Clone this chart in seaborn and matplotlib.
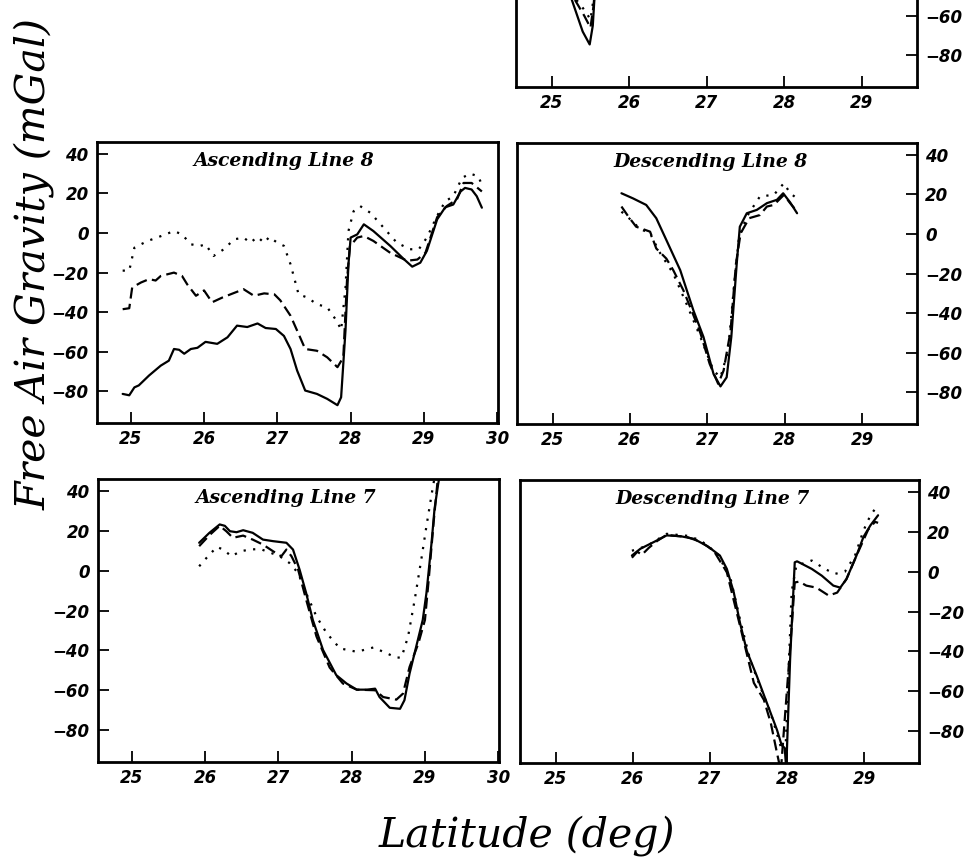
import numpy as np
import pandas as pd
import matplotlib
matplotlib.use("Agg")
import matplotlib.pyplot as plt
import seaborn as sns

# ---------------- data ----------------
# Ascending Line 8
a8_solid_lat = [24.89, 24.98, 25.05, 25.11, 25.25, 25.41, 25.52, 25.59, 25.66, 25.73, 25.82, 25.91,
                26.02, 26.18, 26.32, 26.45, 26.59, 26.73, 26.84, 26.98, 27.09, 27.18, 27.27, 27.38,
                27.54, 27.68, 27.82, 27.87, 27.93, 27.97, 28.00, 28.09, 28.18, 28.31, 28.54, 28.72,
                28.84, 28.95, 29.04, 29.18, 29.29, 29.40, 29.50, 29.56, 29.65, 29.72, 29.79]
a8_solid = [-81.3, -82, -78, -77, -72, -67, -64.5, -58.6, -59, -61, -58.6, -58,
            -55, -56, -52.7, -46.8, -47.5, -45.7, -48, -48.5, -52, -58.6, -69.5, -79.6,
            -81.3, -83.8, -87, -83, -49, -15.8, -2.3, -0.7, 4.4, 1, -6.5, -13,
            -17, -15, -9, 6.9, 13, 14.4, 21, 22.8, 22, 18.6, 12.8]
a8_dash_lat = [24.89, 24.98, 25.02, 25.14, 25.25, 25.34, 25.41, 25.59, 25.70, 25.77, 25.89, 26.00,
               26.11, 26.25, 26.36, 26.54, 26.68, 26.82, 26.96, 27.04, 27.18, 27.29, 27.38, 27.54,
               27.68, 27.82, 27.90, 27.95, 27.99, 28.09, 28.18, 28.31, 28.54, 28.77, 28.91, 29.02,
               29.18, 29.31, 29.45, 29.54, 29.65, 29.79]
a8_dash = [-38.5, -38, -27.5, -25, -23.3, -24, -21.7, -20, -21.7, -25.9, -31.7, -29,
           -35, -32.6, -31, -28.4, -31.7, -30.5, -31, -34, -41.8, -51, -58.6, -59.5,
           -62.8, -67.8, -62.8, -24, -6.7, -2.3, -1.5, -4, -10, -14, -13.4, -10,
           8, 13.6, 17, 25.3, 25.3, 21]
a8_dot_lat = [24.89, 24.98, 25.05, 25.23, 25.36, 25.59, 25.70, 25.82, 25.95, 26.02, 26.13, 26.27,
              26.41, 26.54, 26.63, 26.73, 26.82, 26.89, 27.00, 27.09, 27.18, 27.29, 27.41, 27.54,
              27.68, 27.82, 27.87, 27.93, 27.97, 28.04, 28.13, 28.27, 28.45, 28.63, 28.81, 28.93,
              29.04, 29.18, 29.29, 29.40, 29.52, 29.63, 29.74, 29.79]
a8_dot = [-19, -19, -7.4, -4, -2.3, 1, -0.7, -5.7, -6.5, -5.7, -11.6, -8.2,
          -3.2, -2.3, -4.9, -2, -4.9, -2, -4.9, -6.5, -15.8, -31, -32.6, -36,
          -37.5, -45, -49, -27.5, 1, 11, 13.6, 10.2, 2.7, -4.9, -8.2, -8.2,
          -2.3, 8.7, 16, 18.6, 27.9, 30, 28.7, 24.4]

# Descending Line 8
d8_solid_lat = [25.89, 26.04, 26.21, 26.34, 26.47, 26.65, 26.82, 26.95, 27.08, 27.17, 27.25, 27.31,
                27.38, 27.42, 27.51, 27.64, 27.77, 27.90, 27.98, 28.07, 28.16]
d8_solid = [20.6, 18, 14.7, 8, -3, -18.3, -38.6, -52, -70.7, -77, -72.4, -52,
            -15, 3.7, 10.5, 12.2, 15.6, 17.3, 20.6, 16, 10.5]
d8_dash_lat = [25.89, 25.98, 26.08, 26.26, 26.34, 26.47, 26.56, 26.69, 26.80, 26.91, 27.03, 27.14,
               27.21, 27.30, 27.37, 27.43, 27.54, 27.68, 27.77, 27.86, 27.99, 28.07, 28.16]
d8_dash = [13.9, 8.8, 3.7, 1.2, -7.3, -12.4, -18.3, -28.4, -39, -50, -65.6, -75.7,
           -69, -49, -15, 0.3, 8, 9.6, 13.9, 14.7, 19.8, 15.6, 11.4]
d8_dot_lat = [25.89, 26.04, 26.12, 26.26, 26.38, 26.56, 26.73, 26.91, 27.08, 27.17, 27.27, 27.34,
              27.41, 27.51, 27.68, 27.86, 27.99, 28.07, 28.16]
d8_dot = [11.3, 6.2, 2.8, 0.3, -9, -20, -35.2, -52, -69, -72.4, -58.8, -28.4,
          -1.4, 8.8, 19, 19.8, 25.7, 20.6, 18]

# Ascending Line 7
a7_solid_lat = [25.92, 26.06, 26.20, 26.27, 26.34, 26.43, 26.52, 26.65, 26.79, 26.93, 27.11, 27.20,
                27.29, 27.38, 27.47, 27.61, 27.79, 27.93, 28.07, 28.21, 28.32, 28.38, 28.52, 28.66,
                28.72, 28.79, 28.88, 28.97, 29.02, 29.09, 29.13, 29.18, 29.22]
a7_solid = [14, 19, 23.2, 22.5, 19.8, 19.3, 20.3, 19, 15.6, 14.8, 14, 10.6,
            0.5, -11.3, -24.7, -39.8, -52.4, -56.6, -59.7, -59.7, -59.2, -63.4, -68.8, -69.3,
            -65, -51.6, -38.2, -24.7, -11.3, 14, 30.8, 43.4, 52]
a7_dash_lat = [25.92, 26.06, 26.20, 26.29, 26.38, 26.52, 26.65, 26.79, 26.93, 27.04, 27.11, 27.18,
               27.27, 27.38, 27.52, 27.70, 27.88, 28.07, 28.32, 28.43, 28.61, 28.70, 28.79, 28.91,
               29.00, 29.05, 29.12, 29.18]
a7_dash = [12.3, 17.8, 22.5, 19.8, 16.5, 17.6, 15.6, 13.1, 9.7, 7.2, 10.6, 7.2,
           0.5, -14.6, -33, -48.6, -56.6, -59.7, -60, -63.4, -64.7, -61.7, -48.3, -36.5,
           -24.7, -5, 25, 48]
a7_dot_lat = [25.92, 26.02, 26.16, 26.25, 26.36, 26.48, 26.61, 26.75, 26.88, 27.02, 27.15, 27.27,
              27.38, 27.52, 27.66, 27.84, 28.07, 28.30, 28.43, 28.61, 28.68, 28.77, 28.86, 28.95,
              29.02, 29.11, 29.16]
a7_dot = [2.2, 6.4, 11.9, 10.6, 7.2, 9.7, 10.6, 10.9, 9.2, 7.2, 3.9, -1.2,
          -11.3, -23, -31.4, -39, -40.7, -38.5, -40.7, -43.6, -43.6, -33, -14.6, 5.6,
          22.3, 42.5, 52]

# Descending Line 7
d7_solid_lat = [25.99, 26.10, 26.27, 26.44, 26.62, 26.79, 26.97, 27.13, 27.22, 27.31, 27.39, 27.48,
                27.61, 27.74, 27.87, 27.93, 27.97, 27.99, 28.04, 28.10, 28.13, 28.32, 28.45, 28.60,
                28.69, 28.77, 28.90, 28.99, 29.08, 29.18]
d7_solid = [8.1, 11.5, 14.8, 18.2, 17.8, 16.5, 12.8, 8.1, 1.4, -10.4, -25.6, -39.9,
            -52.5, -66, -79.4, -87, -88.5, -99, -44, 4.7, 5.2, 1.4, -2, -7,
            -8, -3.7, 8.1, 17.4, 23.2, 28.3]
d7_dash_lat = [25.99, 26.06, 26.12, 26.21, 26.32, 26.44, 26.71, 26.88, 27.05, 27.22, 27.39, 27.57,
               27.70, 27.79, 27.87, 27.92, 28.06, 28.10, 28.16, 28.25, 28.38, 28.54, 28.65, 28.77,
               28.90, 29.05, 29.14, 29.18]
d7_dash = [7, 10, 8.5, 12, 15.5, 18.5, 17.3, 15, 10.5, -0.3, -27, -55.8,
           -64.3, -76, -91, -100, -28, -5.4, -5, -7, -8, -12, -10.5, -3.7,
           8, 21, 25, 24.5]
d7_dot_lat = [25.99, 26.19, 26.44, 26.71, 26.88, 27.10, 27.27, 27.39, 27.52, 27.65, 27.79, 27.92,
              27.98, 28.06, 28.12, 28.32, 28.49, 28.62, 28.75, 28.88, 28.99, 29.08, 29.18]
d7_dot = [10.5, 13, 19, 18, 15.7, 9, -3.7, -23.8, -44, -57.5, -71, -88,
          -90, -10, 3, 5.6, 1.4, -1.1, 0, 8, 20.6, 28.2, 33.6]

# Top panel (only the bottom tip is visible)
top_solid_lat = [25.10, 25.26, 25.40, 25.49, 25.53, 25.55, 25.60]
top_solid = [-20, -52, -68, -74.5, -65, -52, -20]
top_dash_lat = [25.30, 25.42, 25.50, 25.54, 25.56]
top_dash = [-52, -60, -66, -55, -45]
top_dot_lat = [25.32, 25.44, 25.50, 25.53, 25.55]
top_dot = [-52, -58, -62, -54, -45]

titles = ["Ascending Line 8", "Descending Line 8", "Ascending Line 7", "Descending Line 7"]
x_ticks_left = [25, 26, 27, 28, 29, 30]
x_ticks_right = [25, 26, 27, 28, 29]
y_ticks = [-80, -60, -40, -20, 0, 20, 40]
y_ticks_top = [-80, -60]
xlabel = "Latitude (deg)"
ylabel = "Free Air Gravity (mGal)"

# ---------------- styling ----------------
sns.set_style("white")
plt.rcParams["font.family"] = ["DejaVu Sans"]
plt.rcParams["axes.unicode_minus"] = True
plt.rcParams["text.color"] = "black"
plt.rcParams["xtick.color"] = "black"
plt.rcParams["ytick.color"] = "black"
plt.rcParams["xtick.labelcolor"] = "black"
plt.rcParams["ytick.labelcolor"] = "black"

DASHES = {"solid": "", "dashed": (5.0, 2.4), "dotted": (1.0, 3.3)}


def frame(sl, s, dl, d, tl, t):
    parts = []
    for lat, val, kind in ((sl, s, "solid"), (dl, d, "dashed"), (tl, t, "dotted")):
        parts.append(pd.DataFrame({"lat": lat, "val": val, "kind": kind}))
    return pd.concat(parts, ignore_index=True)


W, H = 968, 859
fig = plt.figure(figsize=(W / 100, H / 100), dpi=100)


def box(l, r, t, b):
    return [l / W, 1 - b / H, (r - l) / W, (b - t) / H]


panels = [
    dict(pos=box(97, 498, 142, 423), side="left", yt=y_ticks, data=frame(a8_solid_lat, a8_solid, a8_dash_lat, a8_dash, a8_dot_lat, a8_dot), title=titles[0], tx=0.467),
    dict(pos=box(517, 917, 143, 424), side="right", yt=y_ticks, data=frame(d8_solid_lat, d8_solid, d8_dash_lat, d8_dash, d8_dot_lat, d8_dot), title=titles[1], tx=0.485),
    dict(pos=box(98, 499, 479, 762), side="left", yt=y_ticks, data=frame(a7_solid_lat, a7_solid, a7_dash_lat, a7_dash, a7_dot_lat, a7_dot), title=titles[2], tx=0.469),
    dict(pos=box(520, 919, 480, 763), side="right", yt=y_ticks, data=frame(d7_solid_lat, d7_solid, d7_dash_lat, d7_dash, d7_dot_lat, d7_dot), title=titles[3], tx=0.482),
    dict(pos=box(516, 917, -194, 87), side="right", yt=y_ticks_top, data=frame(top_solid_lat, top_solid, top_dash_lat, top_dash, top_dot_lat, top_dot), title=None, tx=0.5),
]

for p in panels:
    ax = fig.add_axes(p["pos"])
    sns.lineplot(data=p["data"], x="lat", y="val", style="kind", dashes=DASHES,
                 style_order=["solid", "dashed", "dotted"],
                 color="black", lw=1.6, estimator=None, sort=False, legend=False, ax=ax)
    if p["side"] == "left":
        ax.set_xlim(24.54, 30.01)
        ax.set_xticks(x_ticks_left)
        ax.tick_params(axis="y", left=True, right=False, labelleft=True, labelright=False)
    else:
        ax.set_xlim(24.54, 29.71)
        ax.set_xticks(x_ticks_right)
        ax.yaxis.tick_right()
        ax.tick_params(axis="y", left=False, right=True, labelleft=False, labelright=True)
    ax.set_ylim(-96, 46)
    ax.set_yticks(p["yt"])
    ax.set_xticklabels([str(int(v)) for v in ax.get_xticks()])
    ax.set_yticklabels([str(v).replace("-", "\u2212") for v in p["yt"]])
    ax.tick_params(axis="both", direction="in", length=8, width=1.3, color="black",
                   labelcolor="black")
    ax.tick_params(axis="x", bottom=True, top=False, pad=5)
    ax.tick_params(axis="y", pad=6)
    for lab in ax.get_xticklabels() + ax.get_yticklabels():
        lab.set_fontfamily("DejaVu Sans")
        lab.set_fontweight("bold")
        lab.set_fontstyle("oblique")
        lab.set_fontsize(12)
        lab.set_color("black")
    for sp in ax.spines.values():
        sp.set_linewidth(2.0)
        sp.set_color("black")
        sp.set_visible(True)
    ax.set_xlabel("")
    ax.set_ylabel("")
    ax.grid(False)
    if p["title"]:
        ax.text(p["tx"], 0.932, p["title"], transform=ax.transAxes, ha="center", va="center",
                family="DejaVu Serif", weight="bold", style="italic", fontsize=13.5,
                color="black")

fig.text(527 / W, 1 - 847 / H, xlabel, ha="center", va="baseline",
         family="DejaVu Serif", style="italic", fontsize=29.5, color="black")
fig.text(45 / W, 1 - 264 / H, ylabel, ha="center", va="baseline", rotation=90,
         rotation_mode="anchor", family="DejaVu Serif", style="italic", fontsize=29.5,
         color="black")

fig.savefig("out.png", dpi=100, facecolor="white")
